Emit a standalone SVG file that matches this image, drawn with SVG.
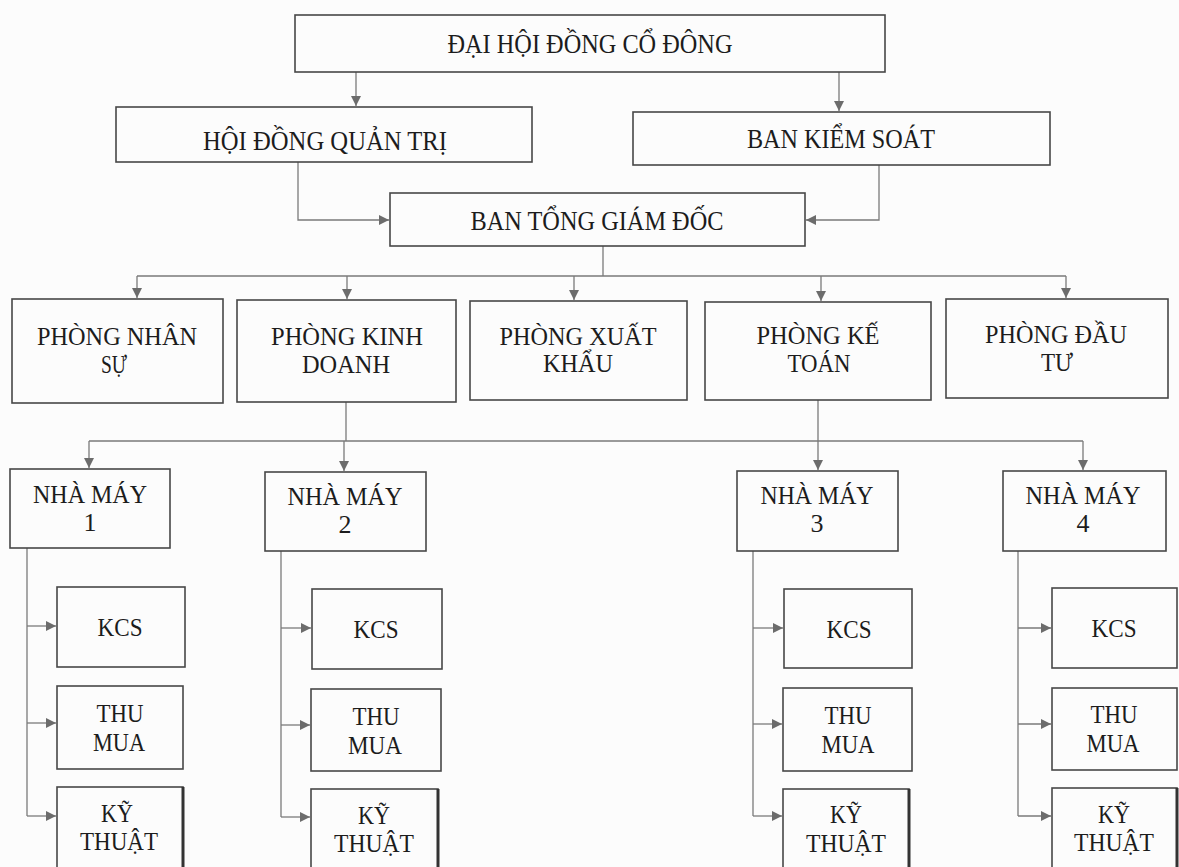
<svg xmlns="http://www.w3.org/2000/svg" width="1179" height="867" viewBox="0 0 1179 867">
<style>
.box{fill:none;stroke:#474747;stroke-width:1.6}
.edge{stroke:#333;stroke-width:3}
.conn{fill:none;stroke:#7a7a7a;stroke-width:1.3}
.arr{fill:none;stroke:#7a7a7a;stroke-width:1.3;marker-end:url(#ah)}
text{font-family:"Liberation Serif","Times New Roman",serif;font-size:26px;fill:#1c1c1c;text-anchor:middle}
.big{font-size:27px}
</style>
<defs>
<marker id="ah" markerWidth="11" markerHeight="11" refX="10" refY="5" orient="auto" markerUnits="userSpaceOnUse">
<path d="M0,0 L10,5 L0,10 z" fill="#6c6c6c"/>
</marker>
</defs>
<rect width="1179" height="867" fill="#fcfcfc"/>

<g id="connectors">
<path class="arr" d="M356,72 V106"/>
<path class="arr" d="M839,72 V111"/>
<path class="arr" d="M298,162 V220 H389"/>
<path class="arr" d="M879,165 V220 H806"/>
<path class="conn" d="M603,246 V276"/>
<path class="conn" d="M137,276 H1066"/>
<path class="arr" d="M137,276 V298"/>
<path class="arr" d="M347,276 V299"/>
<path class="arr" d="M574,276 V300"/>
<path class="arr" d="M821,276 V301"/>
<path class="arr" d="M1066,276 V298"/>
<path class="conn" d="M346,402 V441"/>
<path class="conn" d="M818,400 V441"/>
<path class="conn" d="M89,441 H1083"/>
<path class="arr" d="M89,441 V468"/>
<path class="arr" d="M344,441 V471"/>
<path class="arr" d="M818,441 V470"/>
<path class="arr" d="M1083,441 V470"/>
<path class="conn" d="M27,548 V816"/>
<path class="arr" d="M27,626 H56"/>
<path class="arr" d="M27,723 H56"/>
<path class="arr" d="M27,816 H56"/>
<path class="conn" d="M281,551 V817"/>
<path class="arr" d="M281,628 H311"/>
<path class="arr" d="M281,725 H310"/>
<path class="arr" d="M281,817 H310"/>
<path class="conn" d="M753,551 V816"/>
<path class="arr" d="M753,628 H783"/>
<path class="arr" d="M753,724 H782"/>
<path class="arr" d="M753,816 H782"/>
<path class="conn" d="M1018,551 V816"/>
<path class="arr" d="M1018,628 H1051"/>
<path class="arr" d="M1018,724 H1051"/>
<path class="arr" d="M1018,816 H1051"/>
</g>

<g id="dai-hoi-dong-co-dong">
<rect class="box" x="295" y="15" width="590" height="57"/>
<text class="big" x="590" y="53" textLength="285" lengthAdjust="spacingAndGlyphs">ĐẠI HỘI ĐỒNG CỔ ĐÔNG</text>
</g>
<g id="hoi-dong-quan-tri">
<rect class="box" x="116" y="107" width="416" height="55"/>
<text class="big" x="325" y="150" textLength="244" lengthAdjust="spacingAndGlyphs">HỘI ĐỒNG QUẢN TRỊ</text>
</g>
<g id="ban-kiem-soat">
<rect class="box" x="633" y="112" width="417" height="53"/>
<text class="big" x="841" y="148" textLength="188" lengthAdjust="spacingAndGlyphs">BAN KIỂM SOÁT</text>
</g>
<g id="ban-tong-giam-doc">
<rect class="box" x="390" y="193" width="415" height="53"/>
<text class="big" x="597" y="230" textLength="253" lengthAdjust="spacingAndGlyphs">BAN TỔNG GIÁM ĐỐC</text>
</g>

<g id="phong-nhan-su">
<rect class="box" x="12" y="299" width="211" height="104"/>
<text x="117" y="345" textLength="160" lengthAdjust="spacingAndGlyphs">PHÒNG NHÂN</text>
<text x="114" y="373" textLength="26" lengthAdjust="spacingAndGlyphs">SỰ</text>
</g>
<g id="phong-kinh-doanh">
<rect class="box" x="237" y="300" width="219" height="102"/>
<text x="347" y="345" textLength="152" lengthAdjust="spacingAndGlyphs">PHÒNG KINH</text>
<text x="346" y="373" textLength="88" lengthAdjust="spacingAndGlyphs">DOANH</text>
</g>
<g id="phong-xuat-khau">
<rect class="box" x="470" y="301" width="217" height="99"/>
<text x="578" y="345" textLength="157" lengthAdjust="spacingAndGlyphs">PHÒNG XUẤT</text>
<text x="578" y="372" textLength="70" lengthAdjust="spacingAndGlyphs">KHẨU</text>
</g>
<g id="phong-ke-toan">
<rect class="box" x="705" y="302" width="226" height="98"/>
<text x="818" y="344" textLength="123" lengthAdjust="spacingAndGlyphs">PHÒNG KẾ</text>
<text x="819" y="372" textLength="63" lengthAdjust="spacingAndGlyphs">TOÁN</text>
</g>
<g id="phong-dau-tu">
<rect class="box" x="946" y="299" width="222" height="99"/>
<text x="1056" y="343" textLength="142" lengthAdjust="spacingAndGlyphs">PHÒNG ĐẦU</text>
<text x="1057" y="371" textLength="32" lengthAdjust="spacingAndGlyphs">TƯ</text>
</g>

<g id="nha-may-1">
<rect class="box" x="10" y="469" width="160" height="79"/>
<text x="90" y="503" textLength="114" lengthAdjust="spacingAndGlyphs">NHÀ MÁY</text>
<text x="90" y="531">1</text>
</g>
<g id="nha-may-2">
<rect class="box" x="265" y="472" width="161" height="79"/>
<text x="345" y="505" textLength="115" lengthAdjust="spacingAndGlyphs">NHÀ MÁY</text>
<text x="345" y="533">2</text>
</g>
<g id="nha-may-3">
<rect class="box" x="737" y="471" width="161" height="80"/>
<text x="817" y="504" textLength="113" lengthAdjust="spacingAndGlyphs">NHÀ MÁY</text>
<text x="817" y="532">3</text>
</g>
<g id="nha-may-4">
<rect class="box" x="1003" y="471" width="163" height="80"/>
<text x="1083" y="504" textLength="115" lengthAdjust="spacingAndGlyphs">NHÀ MÁY</text>
<text x="1083" y="532">4</text>
</g>

<g id="kcs-1">
<rect class="box" x="57" y="587" width="128" height="80"/>
<text x="120" y="636" textLength="45" lengthAdjust="spacingAndGlyphs">KCS</text>
</g>
<g id="thu-mua-1">
<rect class="box" x="57" y="686" width="126" height="83"/>
<text x="120" y="722" textLength="47" lengthAdjust="spacingAndGlyphs">THU</text>
<text x="119" y="751" textLength="52" lengthAdjust="spacingAndGlyphs">MUA</text>
</g>
<g id="ky-thuat-1">
<rect class="box" x="57" y="787" width="126" height="95"/>
<line class="edge" x1="183" y1="787" x2="183" y2="867"/>
<text x="117" y="822" textLength="32" lengthAdjust="spacingAndGlyphs">KỸ</text>
<text x="119" y="850" textLength="78" lengthAdjust="spacingAndGlyphs">THUẬT</text>
</g>

<g id="kcs-2">
<rect class="box" x="312" y="589" width="130" height="80"/>
<text x="376" y="638" textLength="45" lengthAdjust="spacingAndGlyphs">KCS</text>
</g>
<g id="thu-mua-2">
<rect class="box" x="311" y="689" width="130" height="82"/>
<text x="376" y="725" textLength="47" lengthAdjust="spacingAndGlyphs">THU</text>
<text x="375" y="754" textLength="54" lengthAdjust="spacingAndGlyphs">MUA</text>
</g>
<g id="ky-thuat-2">
<rect class="box" x="311" y="789" width="127" height="93"/>
<line class="edge" x1="438" y1="789" x2="438" y2="867"/>
<text x="374" y="824" textLength="32" lengthAdjust="spacingAndGlyphs">KỸ</text>
<text x="374" y="852" textLength="80" lengthAdjust="spacingAndGlyphs">THUẬT</text>
</g>

<g id="kcs-3">
<rect class="box" x="784" y="589" width="128" height="79"/>
<text x="849" y="638" textLength="45" lengthAdjust="spacingAndGlyphs">KCS</text>
</g>
<g id="thu-mua-3">
<rect class="box" x="783" y="688" width="129" height="83"/>
<text x="848" y="724" textLength="47" lengthAdjust="spacingAndGlyphs">THU</text>
<text x="848" y="753" textLength="53" lengthAdjust="spacingAndGlyphs">MUA</text>
</g>
<g id="ky-thuat-3">
<rect class="box" x="783" y="789" width="126" height="93"/>
<line class="edge" x1="909" y1="789" x2="909" y2="867"/>
<text x="846" y="823" textLength="32" lengthAdjust="spacingAndGlyphs">KỸ</text>
<text x="846" y="852" textLength="80" lengthAdjust="spacingAndGlyphs">THUẬT</text>
</g>

<g id="kcs-4">
<rect class="box" x="1052" y="588" width="125" height="80"/>
<text x="1114" y="637" textLength="45" lengthAdjust="spacingAndGlyphs">KCS</text>
</g>
<g id="thu-mua-4">
<rect class="box" x="1052" y="688" width="125" height="82"/>
<text x="1114" y="723" textLength="47" lengthAdjust="spacingAndGlyphs">THU</text>
<text x="1113" y="752" textLength="53" lengthAdjust="spacingAndGlyphs">MUA</text>
</g>
<g id="ky-thuat-4">
<rect class="box" x="1052" y="788" width="125" height="94"/>
<line class="edge" x1="1177" y1="788" x2="1177" y2="867"/>
<text x="1114" y="823" textLength="32" lengthAdjust="spacingAndGlyphs">KỸ</text>
<text x="1114" y="851" textLength="80" lengthAdjust="spacingAndGlyphs">THUẬT</text>
</g>
</svg>
